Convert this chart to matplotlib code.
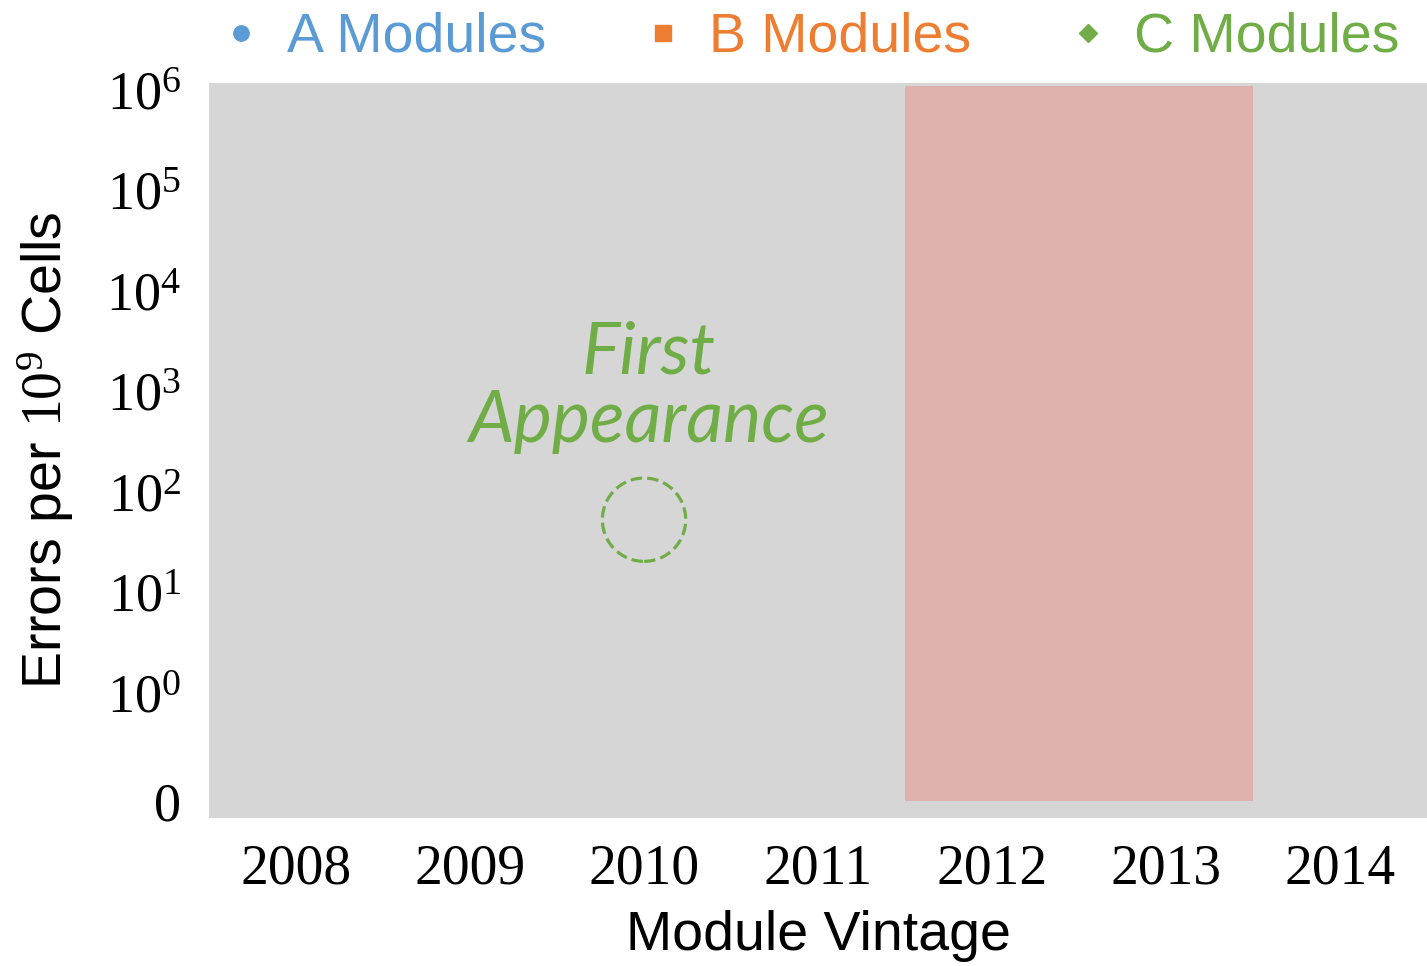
import matplotlib
matplotlib.use('Agg')
import matplotlib.pyplot as plt

plt.rcParams['mathtext.fontset'] = 'custom'
plt.rcParams['mathtext.rm'] = 'Liberation Serif'
plt.rcParams['mathtext.it'] = 'Liberation Serif:italic'

# ── data ─────────────────────────────────────────────────────────────────────
years = [2008, 2009, 2010, 2011, 2012, 2013, 2014]
year_labels = [str(y) for y in years]
series_names = ['A Modules', 'B Modules', 'C Modules']
series_x = [[], [], []]          # no points are visible in the chart
series_y = [[], [], []]
y_ticks = [0, 1, 10, 100, 1e3, 1e4, 1e5, 1e6]
y_tick_labels = ['0'] + [r'$\mathrm{10^{%d}}$' % k for k in range(7)]
highlight_years = [2012, 2013]   # shaded red block
highlight_top = 1.1e6
first_year = 2010                # dashed "first appearance" circle
first_value = 53

C = {'A': '#5B9BD5', 'B': '#ED7D31', 'C': '#70AD47'}
markers = {'A': ('o', 11), 'B': ('s', 11.5), 'C': ('D', 9.5)}

fig = plt.figure(figsize=(14.27, 9.66), dpi=100)
ax = fig.add_axes([0.1465, 0.1532, 0.8535, 0.7609])
ax.set_facecolor('#D6D6D6')
for s in ax.spines.values():
    s.set_visible(False)

ax.set_yscale('symlog', linthresh=1, linscale=0.967)
ax.set_xlim(2007.5, 2014.5)
ax.set_ylim(-0.157, 1.17e6)

# red block spanning 2012-2013
ax.bar(sum(highlight_years) / 2, highlight_top, width=len(highlight_years),
       bottom=0, color='#DFB1AC', zorder=1)

# empty series (legend only)
handles = []
for key, name, xs, ys in zip('ABC', series_names, series_x, series_y):
    m, ms = markers[key]
    h, = ax.plot(xs, ys, ls='none', marker=m, ms=ms, color=C[key], label=name)
    handles.append(h)

# first appearance marker
ax.scatter([first_year], [first_value], s=60**2, facecolors='none',
           edgecolors=C['C'], linewidths=2.3, linestyle=(0, (3.6, 1.6)),
           zorder=3)
ax.text(first_year + 0.025, 1.1e3, 'First\nAppearance', ha='center',
        va='center', fontsize=52, style='italic', family='Lato',
        color=C['C'], linespacing=1.05, zorder=3)

# ticks
ax.set_xticks(years)
ax.set_xticklabels(year_labels, family='Liberation Serif', fontsize=40)
ax.set_yticks(y_ticks)
ax.set_yticklabels(y_tick_labels, family='Liberation Serif', fontsize=39)
ax.yaxis.set_minor_locator(matplotlib.ticker.NullLocator())
ax.tick_params(axis='both', length=0)
ax.tick_params(axis='x', pad=18)
ax.tick_params(axis='y', pad=20)

ax.set_xlabel('Module Vintage', family='Liberation Sans', fontsize=40,
              labelpad=11)
ax.set_ylabel(r'Errors per $\mathrm{10^{9}}$ Cells', family='Liberation Sans',
              fontsize=40, labelpad=22)

leg = fig.legend(handles=handles, loc='upper left',
                 bbox_to_anchor=(0.1535, 1 - 12 / 966), ncol=3, frameon=False,
                 borderpad=0, borderaxespad=0, handlelength=0.8,
                 handletextpad=0.43, columnspacing=1.7,
                 prop={'family': 'Liberation Sans', 'size': 40})
for t, key in zip(leg.get_texts(), 'ABC'):
    t.set_color(C[key])

fig.savefig('out.png', dpi=100)
plt.close()
print('saved')
